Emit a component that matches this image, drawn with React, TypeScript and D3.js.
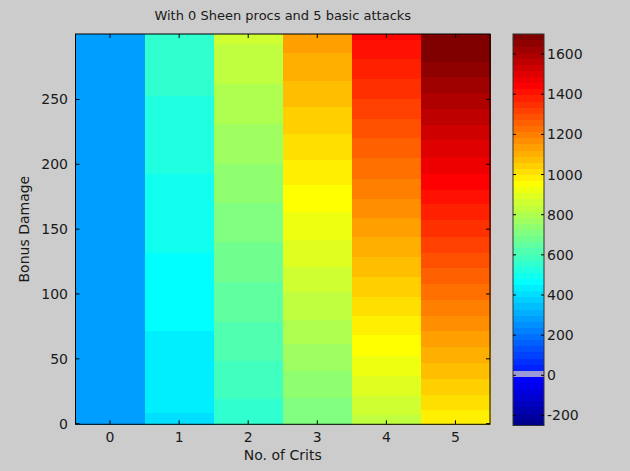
import React from "react";
import * as d3 from "d3";

// ---- data ----
const title = "With 0 Sheen procs and 5 basic attacks";
const xLabel = "No. of Crits";
const yLabel = "Bonus Damage";
const crits = [0, 1, 2, 3, 4, 5];
const bonusDamageExtent = [-0.5, 300.5];
const yTicks = [0, 50, 100, 150, 200, 250];
const colorTicks = [-200, 0, 200, 400, 600, 800, 1000, 1200, 1400, 1600];
const colorRange = [-250, 1700];

// bonus damage at which each column steps up to the next damage band (bottom → top)
const edgesCrit0: number[] = [];
const edgesCrit1 = [8.4, 71.5, 131.6, 193.1, 253.2];
const edgesCrit2 = [19.0, 48.3, 78.4, 109.2, 140.1, 170.4, 200.8, 231.3, 262.2, 293.0];
const edgesCrit3 = [20.0, 40.6, 62.0, 80.2, 102.1, 121.3, 141.9, 163.5, 184.0, 203.3, 223.9, 244.2, 264.8, 286.1];
const edgesCrit4 = [7.2, 21.3, 36.7, 52.2, 68.4, 83.6, 98.2, 113.1, 128.5, 143.9, 159.1, 173.8, 188.7, 205.4, 220.8, 235.2, 250.6, 266.0, 281.4, 296.4];
const edgesCrit5 = [11.1, 22.6, 35.0, 47.0, 59.3, 71.5, 83.6, 95.6, 107.7, 120.0, 131.6, 144.5, 157.1, 169.4, 180.7, 193.1, 205.9, 218.8, 230.7, 242.9, 255.2, 267.3, 279.4];

// damage of each band (bottom → top)
const damageCrit0 = [283];
const damageCrit1 = [405, 436, 466, 497, 527, 557];
const damageCrit2 = [557, 588, 618, 649, 679, 710, 740, 771, 801, 832, 862];
const damageCrit3 = [710, 740, 771, 801, 832, 862, 893, 923, 954, 984, 1014, 1045, 1075, 1106, 1136];
const damageCrit4 = [832, 862, 893, 923, 954, 984, 1014, 1045, 1075, 1106, 1136, 1167, 1197, 1228, 1258, 1289, 1319, 1350, 1380, 1411, 1441];
const damageCrit5 = [984, 1014, 1045, 1075, 1106, 1136, 1167, 1197, 1228, 1258, 1289, 1319, 1350, 1380, 1411, 1441, 1472, 1502, 1532, 1563, 1593, 1624, 1654, 1685];

const edgesByCrit = [edgesCrit0, edgesCrit1, edgesCrit2, edgesCrit3, edgesCrit4, edgesCrit5];
const damageByCrit = [damageCrit0, damageCrit1, damageCrit2, damageCrit3, damageCrit4, damageCrit5];

// ---- colormap: MATLAB jet(64) with one grey entry ----
const N_LEVELS = 64;
function jetColor(i: number): string {
  const L = i + 1;
  const u = (k: number) => (k >= 1 && k <= 16 ? k / 16 : k >= 17 && k <= 31 ? 1 : k >= 32 && k <= 47 ? (48 - k) / 16 : 0);
  const r = L >= 25 ? u(L - 24) : 0;
  const g = L >= 9 && L <= 55 ? u(L - 8) : 0;
  const b = L <= 39 ? u(L + 8) : 0;
  if (i === 8) return "rgb(154,154,214)";
  return `rgb(${Math.round(r * 255)},${Math.round(g * 255)},${Math.round(b * 255)})`;
}
const palette = d3.range(N_LEVELS).map(jetColor);
const colorOf = (v: number) => {
  const t = (v - colorRange[0]) / (colorRange[1] - colorRange[0]);
  const idx = Math.max(0, Math.min(N_LEVELS - 1, Math.floor(t * N_LEVELS)));
  return palette[idx];
};

const W = 630, H = 471;
const plot = { left: 75.5, right: 490, top: 34, bottom: 424.3 };
const cbar = { left: 513, right: 544, top: 34, bottom: 425.5 };
const FONT = "'DejaVu Sans', Verdana, sans-serif";
const TXT = "#1a1a1a";

export default function App() {
  const x = d3.scaleBand<number>().domain(crits).range([plot.left, plot.right]).padding(0);
  const y = d3.scaleLinear().domain(bonusDamageExtent).range([plot.bottom, plot.top]);
  const cy = d3.scaleLinear().domain(colorRange).range([cbar.bottom, cbar.top]);
  const step = (colorRange[1] - colorRange[0]) / N_LEVELS;

  const cells: { x: number; y0: number; y1: number; fill: string; key: string }[] = [];
  crits.forEach((c, ci) => {
    const edges = [bonusDamageExtent[0], ...edgesByCrit[ci], bonusDamageExtent[1]];
    damageByCrit[ci].forEach((v, bi) => {
      cells.push({ x: x(c)!, y0: y(edges[bi]), y1: y(edges[bi + 1]), fill: colorOf(v), key: `${ci}-${bi}` });
    });
  });

  const tl = 4;
  return (
    <svg width={W} height={H} style={{ position: "absolute", left: 0, top: 0, background: "#cccccc" }} fontFamily={FONT}>
      <rect x={0} y={0} width={W} height={H} fill="#cccccc" />
      {cells.map((d) => (
        <rect key={d.key} x={d.x} y={d.y1} width={x.bandwidth() + 0.5} height={d.y0 - d.y1 + 0.3} fill={d.fill} shapeRendering="crispEdges" />
      ))}
      <rect x={plot.left} y={plot.top} width={plot.right - plot.left} height={plot.bottom - plot.top} fill="none" stroke="#000" strokeWidth={1} />
      {crits.map((c) => {
        const cx = x(c)! + x.bandwidth() / 2;
        return (
          <g key={c}>
            <line x1={cx} x2={cx} y1={plot.bottom} y2={plot.bottom - tl} stroke="#000" />
            <line x1={cx} x2={cx} y1={plot.top} y2={plot.top + tl} stroke="#000" />
            <text x={cx} y={442} textAnchor="middle" fontSize={14} fill={TXT}>{c}</text>
          </g>
        );
      })}
      {yTicks.map((t) => (
        <g key={t}>
          <line x1={plot.left} x2={plot.left + tl} y1={y(t)} y2={y(t)} stroke="#000" />
          <line x1={plot.right} x2={plot.right - tl} y1={y(t)} y2={y(t)} stroke="#000" />
          <text x={68} y={y(t) + 5} textAnchor="end" fontSize={14} fill={TXT}>{t}</text>
        </g>
      ))}
      <text x={(plot.left + plot.right) / 2} y={460} textAnchor="middle" fontSize={14} fill={TXT}>{xLabel}</text>
      <text transform={`translate(29,${(plot.top + plot.bottom) / 2}) rotate(-90)`} textAnchor="middle" fontSize={14} fill={TXT}>{yLabel}</text>
      <text x={(plot.left + plot.right) / 2} y={20} textAnchor="middle" fontSize={13} fill={TXT}>{title}</text>

      {palette.map((col, i) => {
        const v0 = colorRange[0] + i * step;
        return (
          <rect key={i} x={cbar.left} y={cy(v0 + step)} width={cbar.right - cbar.left} height={cy(v0) - cy(v0 + step) + 0.3} fill={col} shapeRendering="crispEdges" />
        );
      })}
      <rect x={cbar.left} y={cbar.top} width={cbar.right - cbar.left} height={cbar.bottom - cbar.top} fill="none" stroke="#333" strokeWidth={1} />
      {colorTicks.map((t) => (
        <g key={t}>
          <line x1={cbar.left} x2={cbar.left + 3} y1={cy(t)} y2={cy(t)} stroke="#000" />
          <line x1={cbar.right} x2={cbar.right - 3} y1={cy(t)} y2={cy(t)} stroke="#000" />
          <text x={547} y={cy(t) + 5} fontSize={14} fill={TXT}>{t}</text>
        </g>
      ))}
    </svg>
  );
}
